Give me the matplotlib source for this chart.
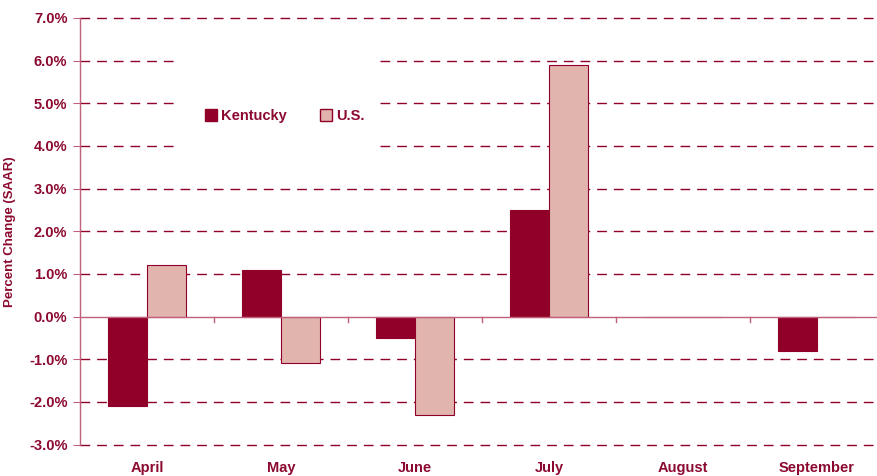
import matplotlib
matplotlib.use("Agg")
import matplotlib.pyplot as plt
from matplotlib.patches import Rectangle, Patch
from matplotlib.ticker import FuncFormatter, MultipleLocator
import numpy as np

months = ["April", "May", "June", "July", "August", "September"]
kentucky = [-2.1, 1.1, -0.5, 2.5, 0.0, -0.8]
us = [1.2, -1.1, -2.3, 5.9, 0.0, 0.0]

DARK = "#910028"
LIGHT = "#E1B5AE"
TEXT = "#8C0A30"
AXIS = "#C0607A"
FONT = ["Liberation Sans Narrow", "Liberation Sans", "DejaVu Sans"]

plt.rcParams["font.family"] = FONT
plt.rcParams["font.weight"] = "bold"

fig = plt.figure(figsize=(8.78, 4.76), dpi=100)
ax = fig.add_axes([80 / 878, 31.5 / 476, 804 / 878, 426.5 / 476])

x = np.arange(len(months))
w = 0.29
ax.bar(x - w / 2, kentucky, w, color=DARK, edgecolor=DARK, linewidth=0.8, zorder=2)
ax.bar(x + w / 2, us, w, color=LIGHT, edgecolor=DARK, linewidth=0.8, zorder=2)

ax.set_xlim(-0.5, len(months) - 0.5)
ax.set_ylim(-3, 7)
ax.yaxis.set_major_locator(MultipleLocator(1))
ax.yaxis.set_major_formatter(FuncFormatter(lambda v, p: f"{v:.1f}%"))

# dashed grid, skip zero (solid axis line there)
for v in np.arange(-3, 8, 1):
    if v == 0:
        continue
    ax.axhline(v, color=DARK, linestyle=(0, (7, 5)), linewidth=1, zorder=0.5, clip_on=False)
ax.axhline(0, color=AXIS, linewidth=1, zorder=3)

# white box behind the legend hides the grid there
ax.add_patch(Rectangle((180 / 878, 1 - 170 / 476), 200 / 878, 130 / 476,
                       transform=fig.transFigure, facecolor="white",
                       edgecolor="none", zorder=1))

for s in ["top", "right", "bottom"]:
    ax.spines[s].set_visible(False)
ax.spines["left"].set_color(AXIS)
ax.spines["left"].set_linewidth(1)

ax.set_xticks(x)
ax.set_xticklabels(months, fontsize=10.5, color=TEXT, fontweight="bold")
ax.tick_params(axis="x", length=0, pad=12)
# category boundary ticks on zero line
for b in np.arange(0.5, len(months) - 0.5, 1):
    ax.plot([b, b], [0, -0.12], color=AXIS, linewidth=1, zorder=3, clip_on=False)

ax.tick_params(axis="y", length=5, color=AXIS, labelsize=10.5, labelcolor=TEXT, pad=4)
for lab in ax.get_yticklabels():
    lab.set_fontweight("bold")

ax.set_ylabel("Percent Change (SAAR)", fontsize=9.5, color=TEXT, fontweight="bold", labelpad=9)

handles = [Patch(facecolor=DARK, edgecolor=DARK), Patch(facecolor=LIGHT, edgecolor=DARK)]
fig.legend(handles, ["Kentucky", "U.S."], loc="center left",
           bbox_to_anchor=(205 / 878, 1 - 116 / 476), ncol=2, frameon=False,
           borderpad=0, borderaxespad=0, handlelength=0.8, handleheight=0.8,
           handletextpad=0.3, columnspacing=2.3,
           prop={"family": FONT, "weight": "bold", "size": 10.5},
           labelcolor=TEXT)

fig.savefig("out.png", dpi=100)
